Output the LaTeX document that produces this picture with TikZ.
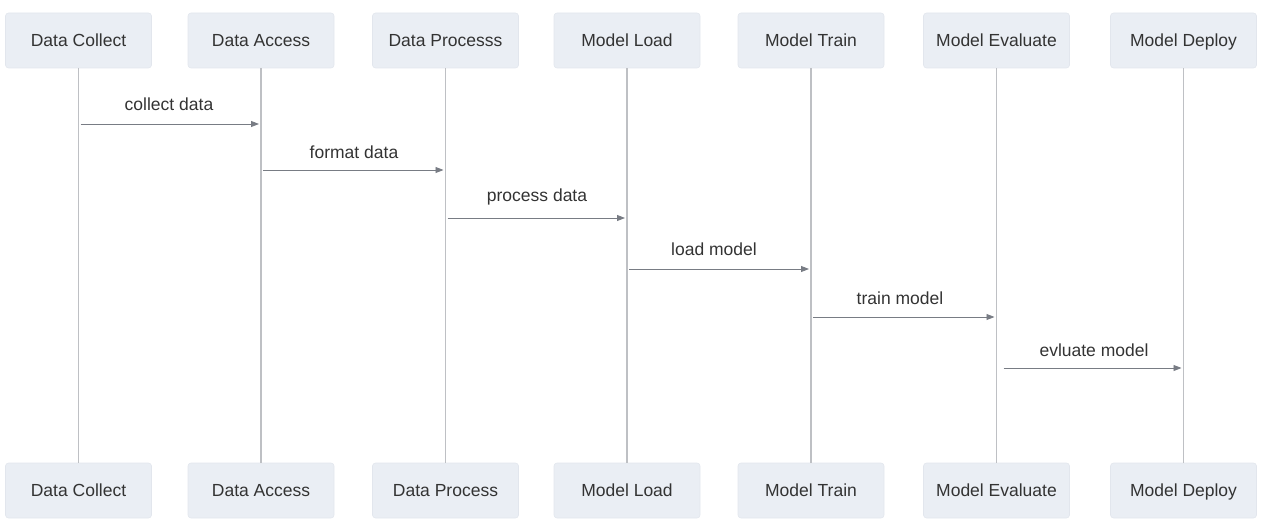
\documentclass[tikz,border=0pt]{standalone}
\usepackage{fontspec}
\setmainfont{Liberation Sans}
\usetikzlibrary{arrows.meta}
\definecolor{boxfill}{RGB}{234,238,244}
\definecolor{boxline}{RGB}{226,230,237}
\definecolor{txt}{RGB}{51,51,51}
\definecolor{life}{RGB}{190,192,196}
\definecolor{msgc}{RGB}{120,124,132}
\tikzset{
  actor/.style={draw=boxline, line width=0.6pt, fill=boxfill, rounded corners=3pt,
    minimum width=146pt, minimum height=55pt, inner sep=0pt, text=txt,
    text height=12.6pt, text depth=0.5pt,
    font=\fontsize{17.5}{20}\selectfont},
  lifeline/.style={draw=life, line width=1.2pt},
  msg/.style={draw=msgc, line width=0.9pt, -{Triangle[length=8pt,width=6pt]},
    shorten <=2pt, shorten >=2pt},
  msglabel/.style={anchor=base, text=txt, inner sep=0pt,
    font=\fontsize{17.5}{20}\selectfont}
}
\begin{document}
\begin{tikzpicture}[x=1pt,y=-1pt]
\useasboundingbox (0,0) rectangle (1268,529);
% top actors
\node[actor] (t1) at (78.5,40.5) {Data Collect};
\node[actor] (t2) at (261,40.5) {Data Access};
\node[actor] (t3) at (445.5,40.5) {Data Processs};
\node[actor] (t4) at (627,40.5) {Model Load};
\node[actor] (t5) at (811,40.5) {Model Train};
\node[actor] (t6) at (996.5,40.5) {Model Evaluate};
\node[actor] (t7) at (1183.5,40.5) {Model Deploy};
% bottom actors
\node[actor] (b1) at (78.5,490.5) {Data Collect};
\node[actor] (b2) at (261,490.5) {Data Access};
\node[actor] (b3) at (445.5,490.5) {Data Process};
\node[actor] (b4) at (627,490.5) {Model Load};
\node[actor] (b5) at (811,490.5) {Model Train};
\node[actor] (b6) at (996.5,490.5) {Model Evaluate};
\node[actor] (b7) at (1183.5,490.5) {Model Deploy};
% lifelines
\foreach \i in {1,...,7} {\draw[lifeline] (t\i.south) -- (b\i.north);}
% message anchor points on lifelines
\coordinate (m1a) at (t1.south |- 0,124);
\coordinate (m1b) at (t2.south |- 0,124);
\coordinate (m2a) at (t2.south |- 0,170);
\coordinate (m2b) at (t3.south |- 0,170);
\coordinate (m3a) at (t3.south |- 0,218);
\coordinate (m3b) at (t4.south |- 0,218);
\coordinate (m4a) at (t4.south |- 0,269);
\coordinate (m4b) at (t5.south |- 0,269);
\coordinate (m5a) at (t5.south |- 0,317);
\coordinate (m5b) at (t6.south |- 0,317);
\coordinate (m6a) at (t6.south |- 0,368);
\coordinate (m6b) at (t7.south |- 0,368);
% messages
\draw[msg] (m1a) -- (m1b);
\draw[msg] (m2a) -- (m2b);
\draw[msg] (m3a) -- (m3b);
\draw[msg] (m4a) -- (m4b);
\draw[msg] (m5a) -- (m5b);
\draw[msg, shorten <=7pt] (m6a) -- (m6b);
% labels
\node[msglabel] (l1) at (169,111) {collect data};
\node[msglabel] (l2) at (354,159) {format data};
\node[msglabel] (l3) at (537,202) {process data};
\node[msglabel] (l4) at (714,256) {load model};
\node[msglabel] (l5) at (900,304) {train model};
\node[msglabel] (l6) at (1094,356) {evluate model};
\end{tikzpicture}
\end{document}
